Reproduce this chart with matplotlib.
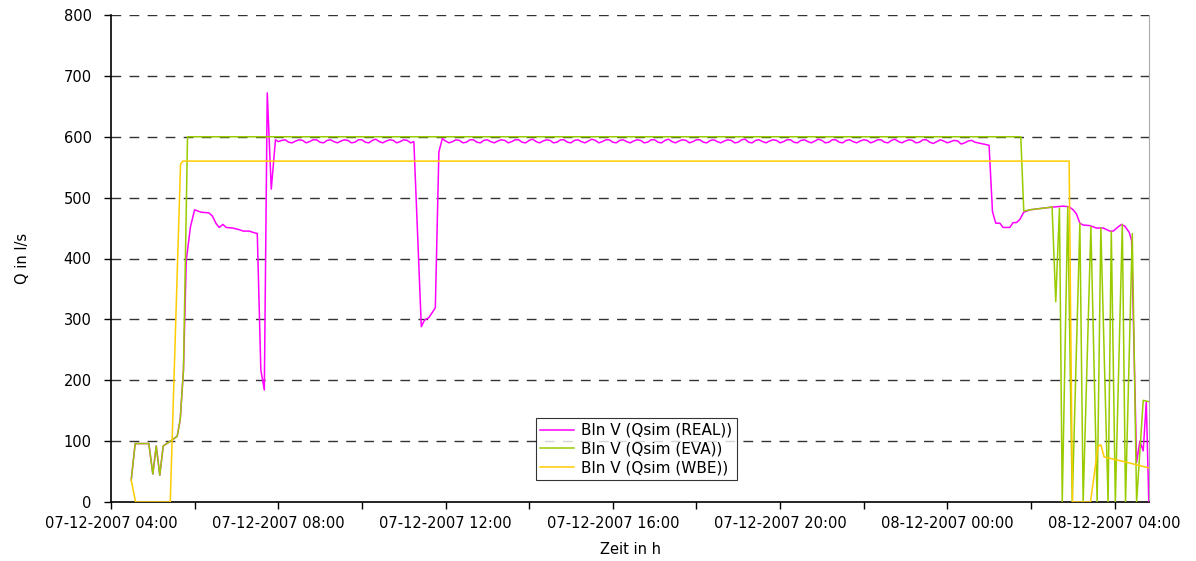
import numpy as np
import matplotlib
matplotlib.use("Agg")
import matplotlib.pyplot as plt

# ---------------- data (time in minutes after 07-12-2007 04:00) ----------------
real_t_a = [29, 34.7, 54.3, 60, 64.9, 70, 74.9, 84, 95, 99.3, 104, 108, 114, 120, 129.5,
            140.4, 145.3, 151, 155.3, 160.5, 165.4, 174.8, 182, 190.2, 198.8, 203.5, 209.9,
            215, 220, 224.2, 230, 236]
real_v_a = [36, 96, 96, 46, 92, 44, 92, 99, 108, 135, 217, 397, 452, 480, 476,
            475, 470, 457, 451, 456, 451, 450, 448, 445, 445, 443, 441,
            217, 184, 672, 514, 595]

# wavy plateau 1 (5-minute values from 240 min)
real_wave1 = [592, 594, 595, 591, 590, 593, 595, 594, 590, 592, 595, 595, 591,
              590, 594, 595, 592, 590, 593, 595, 594, 590, 591, 595, 595, 591,
              590, 594, 596, 592, 590, 593, 595, 594, 590, 592, 595, 594, 590]

real_t_b = [434.6, 445.3, 450, 456.2, 465.4, 470.5, 475.4]
real_v_b = [592, 288, 299, 303, 319, 575, 597]

# wavy plateau 2 (5-minute values from 480 min)
real_wave2 = [593, 590, 592, 595, 594, 590, 591, 595, 595, 591, 590, 594,
              595, 592, 590, 593, 595, 594, 590, 592, 595, 595, 591, 590,
              594, 596, 592, 590, 593, 595, 594, 590, 591, 595, 595, 591,
              590, 594, 595, 592, 590, 593, 596, 594, 590, 592, 595, 595,
              591, 590, 594, 595, 592, 590, 593, 595, 594, 590, 591, 595,
              595, 591, 590, 594, 596, 592, 590, 593, 595, 594, 590, 592,
              595, 595, 591, 590, 594, 595, 592, 590, 593, 595, 594, 590,
              591, 595, 596, 591, 590, 594, 595, 592, 590, 593, 595, 594,
              590, 592, 595, 595, 591, 590, 594, 595, 592, 590, 593, 596,
              594, 590, 591, 595, 595, 591, 590, 594, 595, 592, 590, 593,
              595, 594, 590, 592, 595, 595, 591, 590, 594, 596, 592, 590,
              593, 595, 594, 590, 591, 595, 595, 591, 589, 592, 595, 593,
              590, 592, 594, 593, 588, 590, 593, 594, 591]

real_t_c = [1260, 1264.9, 1269.6, 1275.4, 1280.1, 1289.8, 1294.4, 1299.3, 1304, 1309.8,
            1318.5, 1332.8, 1347.2, 1356.7, 1365.8, 1374.9, 1380.7, 1385.5, 1390.3,
            1395, 1404.7, 1414.2, 1423.8, 1433.4, 1438.1, 1445.3, 1450.2, 1454.9,
            1461.1, 1464.5, 1471.7, 1476.4, 1481.2, 1485.6, 1489.2]
real_v_c = [586, 477, 458, 458, 451, 451, 459, 459, 464, 476,
            480, 482, 484, 485, 486, 485, 480, 473, 458,
            455, 454, 450, 450, 445, 445, 452, 456, 453,
            443, 430, 65, 100, 84, 165, 0]

eva_t = [29, 34.7, 54.3, 60, 64.9, 70, 74.9, 84, 95, 99.3, 104, 109.8, 1305.5, 1309.8,
         1318.5, 1332.8, 1347.2, 1350.4, 1355.7, 1361, 1365, 1372.9, 1379.4, 1390.3,
         1395, 1406.1, 1415.1, 1420.4, 1430.8, 1435.4, 1441.2, 1451.2, 1455.8, 1465.5,
         1471.7, 1481.2, 1488.5]
eva_v = [36, 96, 96, 46, 92, 44, 92, 99, 108, 135, 217, 600, 600, 478,
         480, 482, 484, 485, 329, 483, 0, 485, 0, 458,
         0, 452, 0, 450, 0, 444, 0, 456, 0, 441,
         0, 167, 165]

wbe_t = [29, 35.2, 85, 99.8, 103.1, 1374.9, 1379.7, 1405.5, 1416.5, 1420.4, 1425.1,
         1454.9, 1489.2]
wbe_v = [36, 0, 0, 555, 560, 560, 0, 0, 92, 94, 74, 66, 56]

series_names = ["Bln V (Qsim (REAL))", "Bln V (Qsim (EVA))", "Bln V (Qsim (WBE))"]
series_colors = ["#FF00FF", "#99CC00", "#FFCC00"]

x_tick_labels = ["07-12-2007 04:00", "07-12-2007 08:00", "07-12-2007 12:00",
                 "07-12-2007 16:00", "07-12-2007 20:00", "08-12-2007 00:00",
                 "08-12-2007 04:00"]
y_ticks = [0, 100, 200, 300, 400, 500, 600, 700, 800]

# ---------------- assemble ----------------
real_t = (list(real_t_a) + list(240 + 5 * np.arange(len(real_wave1)))
          + real_t_b + list(480 + 5 * np.arange(len(real_wave2))) + real_t_c)
real_v = real_v_a + real_wave1 + real_v_b + real_wave2 + real_v_c

plt.rcParams['font.family'] = ['DejaVu Sans']
fig = plt.figure(figsize=(11.96, 5.61), dpi=100)
ax = fig.add_axes([111 / 1196, 59 / 561, 1038 / 1196, 487 / 561])

ax.plot(real_t, real_v, color=series_colors[0], lw=1.1, label=series_names[0], zorder=3)
ax.plot(eva_t, eva_v, color=series_colors[1], lw=1.1, label=series_names[1], zorder=4)
ax.plot(wbe_t, wbe_v, color=series_colors[2], lw=1.1, label=series_names[2], zorder=5)

ax.set_xlim(0, 1489.5)
ax.set_ylim(0, 800)

ax.set_xticks([240 * i for i in range(len(x_tick_labels))])
ax.set_xticklabels(x_tick_labels, fontsize=10.5)
ax.set_xticks([120 + 240 * i for i in range(6)], minor=True)
ax.tick_params(axis='x', which='both', direction='out', length=5, width=1, pad=5, colors='black')
ax.set_yticks(y_ticks)
ax.set_yticklabels([str(v) for v in y_ticks], fontsize=10.5)
ax.tick_params(axis='y', direction='out', length=5, width=1, pad=9)

for v in y_ticks[1:]:
    ax.axhline(v, color='#333333', lw=1, ls=(0, (7, 6)), zorder=1)

ax.spines['top'].set_visible(False)
ax.spines['right'].set_color('#AAAAAA')
ax.spines['left'].set_linewidth(1.2)
ax.spines['bottom'].set_linewidth(1.2)

ax.set_ylabel("Q in l/s", fontsize=10.5, labelpad=24)
ax.set_xlabel("Zeit in h", fontsize=10.5, labelpad=8)

leg = ax.legend(loc='lower left', bbox_to_anchor=(0.409, 0.045), fontsize=11,
                frameon=True, fancybox=False, edgecolor='black', handlelength=2.2,
                borderpad=0.3, labelspacing=0.25, handletextpad=0.5, borderaxespad=0)
leg.get_frame().set_linewidth(0.8)

fig.savefig("out.png", dpi=100)
